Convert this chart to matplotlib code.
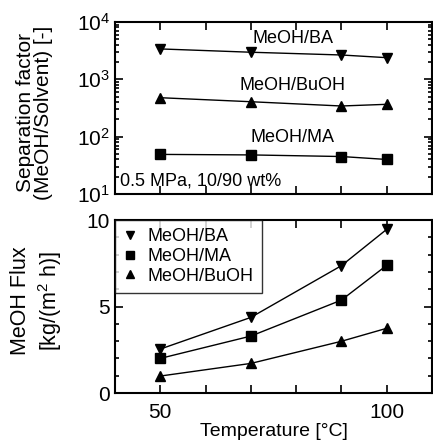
import numpy as np
import matplotlib
matplotlib.use('Agg')
import matplotlib.pyplot as plt
from matplotlib.ticker import MultipleLocator, LogLocator, NullFormatter, FixedLocator

plt.rcParams['font.family'] = ['Liberation Sans', 'DejaVu Sans']
plt.rcParams['mathtext.fontset'] = 'custom'
plt.rcParams['mathtext.rm'] = 'Liberation Sans'
plt.rcParams['mathtext.it'] = 'Liberation Sans:italic'

# 温度 (°C)
temperature = [50, 70, 90, 100]

# 分离因子
sep_ba = [3380, 2960, 2650, 2380]
sep_buoh = [477, 406, 342, 366]
sep_ma = [49, 48, 45, 40]

# 甲醇通量 kg/(m2 h)
flux_ba = [2.54, 4.37, 7.36, 9.46]
flux_ma = [2.0, 3.29, 5.37, 7.38]
flux_buoh = [0.98, 1.71, 2.99, 3.74]

fig = plt.figure(figsize=(4.33, 4.47), dpi=100)
ax1 = fig.add_axes([0.2656, 0.566, 0.732, 0.385])
ax2 = fig.add_axes([0.2656, 0.1208, 0.732, 0.387])

mk = dict(color='black', lw=1.0, ms=7.5)

# 上图: 分离因子
ax1.plot(temperature, sep_ba, marker='v', **mk)
ax1.plot(temperature, sep_buoh, marker='^', **mk)
ax1.plot(temperature, sep_ma, marker='s', **mk)
ax1.set_yscale('log')
ax1.set_ylim(10, 1e4)
ax1.set_xlim(40, 110)
ax1.yaxis.set_major_locator(LogLocator(base=10, numticks=10))
ax1.yaxis.set_minor_locator(LogLocator(base=10, subs=np.arange(2, 10), numticks=10))
ax1.xaxis.set_major_locator(MultipleLocator(10))
ax1.xaxis.set_major_formatter(NullFormatter())
ax1.text(79.3, 5240, 'MeOH/BA', ha='center', va='center', fontsize=13)
ax1.text(79.3, 764, 'MeOH/BuOH', ha='center', va='center', fontsize=13)
ax1.text(79.3, 98, 'MeOH/MA', ha='center', va='center', fontsize=13)
ax1.text(41.0, 17.0, '0.5 MPa, 10/90 wt%', ha='left', va='center', fontsize=13)
ax1.set_ylabel('Separation factor\n(MeOH/Solvent) [-]', fontsize=15, linespacing=0.9)
ax1.yaxis.set_label_coords(-0.196, 0.474)

# 下图: 通量
ax2.plot(temperature, flux_ba, marker='v', label='MeOH/BA', **mk)
ax2.plot(temperature, flux_ma, marker='s', label='MeOH/MA', **mk)
ax2.plot(temperature, flux_buoh, marker='^', label='MeOH/BuOH', **mk)
ax2.set_xlim(40, 110)
ax2.set_ylim(0, 10)
ax2.xaxis.set_major_locator(FixedLocator([50, 100]))
ax2.xaxis.set_minor_locator(MultipleLocator(10))
ax2.yaxis.set_major_locator(MultipleLocator(5))
ax2.yaxis.set_minor_locator(MultipleLocator(1))
ax2.set_xlabel('Temperature [°C]', fontsize=14, labelpad=1)
ax2.set_ylabel('MeOH Flux\n[kg/(m$^2$ h)]', fontsize=15.5, linespacing=1.25)
ax2.yaxis.set_label_coords(-0.16, 0.535)
leg = ax2.legend(loc='upper left', bbox_to_anchor=(0.0, 1.0), frameon=True, fancybox=False,
                 edgecolor='black', fontsize=13, handlelength=0.8, handletextpad=0.55,
                 borderaxespad=0.0, labelspacing=0.15, borderpad=0.45)
leg.get_frame().set_linewidth(1.0)
for h in leg.legend_handles:
    h.set_linestyle('None')
    h.set_markersize(6)

for ax in (ax1, ax2):
    for s in ax.spines.values():
        s.set_linewidth(1.5)
    ax.tick_params(which='both', direction='in', top=True, right=True, labelsize=15, width=1.2)
    ax.tick_params(which='major', length=6)
    ax.tick_params(which='minor', length=3)
# 下图的10°C刻度用长刻度
ax2.tick_params(axis='x', which='minor', length=6)
ax2.tick_params(axis='x', which='major', pad=7)

fig.savefig('out.png', dpi=100)
